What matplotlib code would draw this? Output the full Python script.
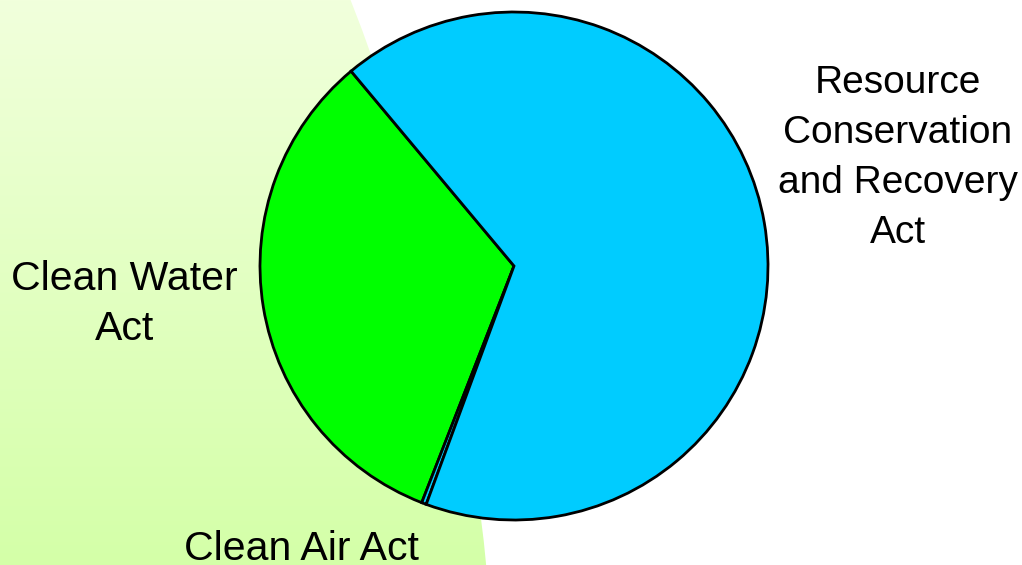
import numpy as np
import matplotlib.pyplot as plt
from matplotlib.patches import Circle

# Дані діаграми
labels = ["Clean Water\nAct", "Clean Air Act", "Resource\nConservation\nand Recovery\nAct"]
values = [33.0, 0.3, 66.7]
colors = ["#00FF00", "#00CCFF", "#00CCFF"]

# Позиції підписів (у координатах осі пирога)
label_pos = [(-1.535, -0.15), (-0.835, -1.115), (1.512, 0.425)]

plt.rcParams["font.family"] = ["Liberation Sans", "DejaVu Sans"]

W, H = 1022, 565
fig = plt.figure(figsize=(W / 100, H / 100), dpi=100)

# Фон: світло-зелений градієнт зліва
ax_bg = fig.add_axes([0, 0, 1, 1])
ax_bg.set_xlim(0, W)
ax_bg.set_ylim(H, 0)
ax_bg.axis("off")
top = np.array([241, 255, 220]) / 255
bottom = np.array([212, 255, 168]) / 255
t = np.linspace(0, 1, 256)[:, None, None]
grad = top * (1 - t) + bottom * t
grad = np.repeat(grad, 2, axis=1)
im = ax_bg.imshow(grad, extent=[0, W, H, 0], aspect="auto", zorder=0)
clip = Circle((-1655, 780), 2152, transform=ax_bg.transData, facecolor="none", edgecolor="none")
ax_bg.add_patch(clip)
im.set_clip_path(clip)

# Кругова діаграма
cx, cy, r = 514, 266, 254
ax = fig.add_axes([(cx - r) / W, (H - cy - r) / H, 2 * r / W, 2 * r / H])
wedges, texts = ax.pie(
    values,
    labels=labels,
    colors=colors,
    startangle=129.9,
    counterclock=True,
    wedgeprops=dict(edgecolor="black", linewidth=2.0),
    textprops=dict(fontsize=29.5, color="black", ha="center", va="center", linespacing=1.42),
)
for txt, (x, y) in zip(texts, label_pos):
    txt.set_position((x, y))
    txt.set_ha("center")
    txt.set_va("center")
    txt.set_clip_on(False)
# підпис RCRA трохи менший
texts[2].set_fontsize(28)
texts[2].set_linespacing(1.5)
ax.set_xlim(-1, 1)
ax.set_ylim(-1, 1)
ax.set_aspect("equal")

fig.savefig("out.png", dpi=100)
